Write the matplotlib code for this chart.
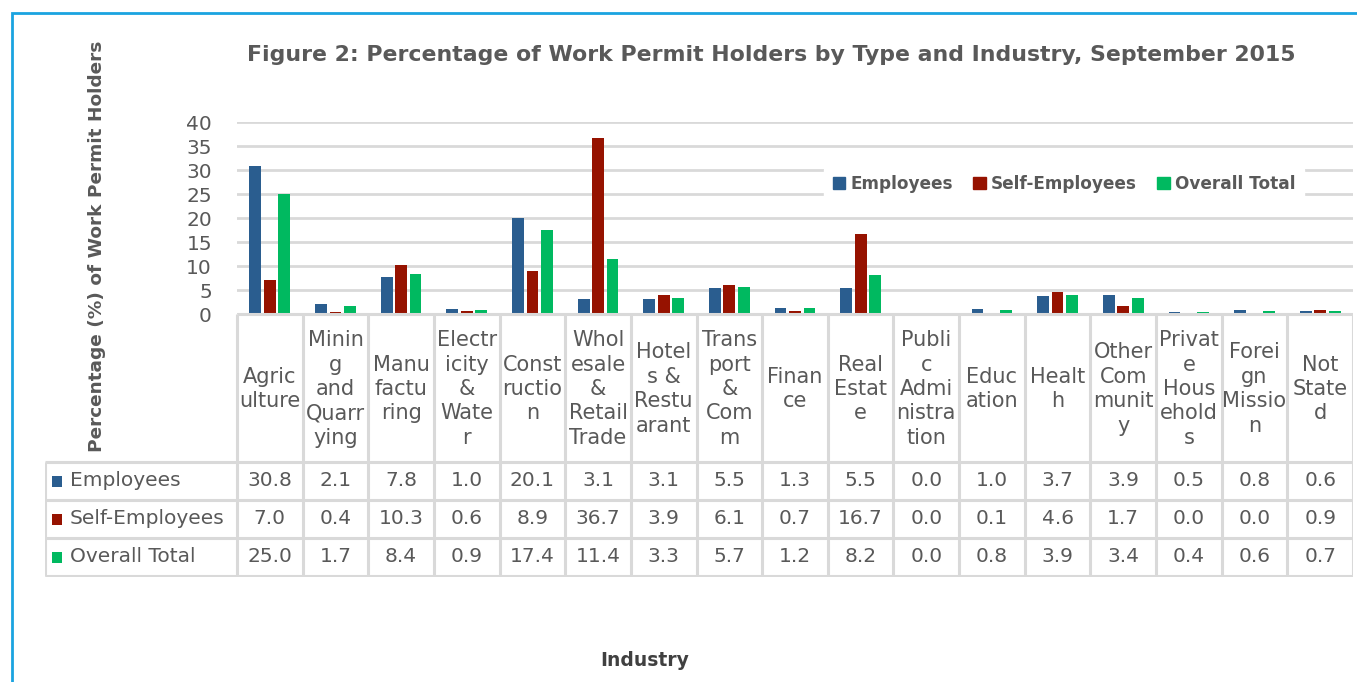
import matplotlib.pyplot as plt
import matplotlib.patches as mpatches
import numpy as np

# Datos
industrias = ["Agric\nulture", "Minin\ng\nand\nQuarr\nying", "Manu\nfactu\nring",
              "Electr\nicity\n&\nWate\nr", "Const\nructio\nn",
              "Whol\nesale\n&\nRetail\nTrade", "Hotel\ns &\nRestu\narant",
              "Trans\nport\n&\nCom\nm", "Finan\nce", "Real\nEstat\ne",
              "Publi\nc\nAdmi\nnistra\ntion", "Educ\nation", "Healt\nh",
              "Other\nCom\nmunit\ny", "Privat\ne\nHous\nehold\ns",
              "Forei\ngn\nMissio\nn", "Not\nState\nd"]
series = ["Employees", "Self-Employees", "Overall Total"]
employees = [30.8, 2.1, 7.8, 1.0, 20.1, 3.1, 3.1, 5.5, 1.3, 5.5, 0.0, 1.0, 3.7, 3.9, 0.5, 0.8, 0.6]
self_employees = [7.0, 0.4, 10.3, 0.6, 8.9, 36.7, 3.9, 6.1, 0.7, 16.7, 0.0, 0.1, 4.6, 1.7, 0.0, 0.0, 0.9]
overall_total = [25.0, 1.7, 8.4, 0.9, 17.4, 11.4, 3.3, 5.7, 1.2, 8.2, 0.0, 0.8, 3.9, 3.4, 0.4, 0.6, 0.7]
colores = ['#2A5D8F', '#961200', '#00B960']
valores = [employees, self_employees, overall_total]

gris = '#595959'
linea = '#D9D9D9'
W, H = 1357, 682

fig = plt.figure(figsize=(W / 100, H / 100), dpi=100)

def px(x0, y0, x1, y1):
    # rectangulo en pixeles -> coordenadas de figura
    return [x0 / W, 1 - y1 / H, (x1 - x0) / W, (y1 - y0) / H]

n = len(industrias)
x = np.arange(n)

# Grafico de barras
ax = fig.add_axes(px(237, 122, 1353, 314))
ax.set_xlim(-0.5, n - 0.5)
ax.set_ylim(0, 40)
ancho = 0.18
desp = 0.22
for k in range(3):
    ax.bar(x + (k - 1) * desp, valores[k], ancho, color=colores[k], label=series[k], zorder=3)
ax.set_yticks(range(0, 41, 5))
ax.yaxis.grid(True, color=linea, lw=2, zorder=0)
ax.set_xticks([])
for s in ['top', 'right', 'left', 'bottom']:
    ax.spines[s].set_visible(False)
ax.tick_params(axis='y', length=0, labelsize=14.5, labelcolor=gris, pad=18)

# Leyenda
handles = [mpatches.Patch(color=c) for c in colores]
leg = fig.legend(handles, series, loc='center', bbox_to_anchor=(1064 / W, 1 - 184 / H),
                 ncol=3, frameon=True, fontsize=12.2, handlelength=0.75, handleheight=0.75,
                 handletextpad=0.3, columnspacing=1.2, borderpad=0.5)
leg.get_frame().set_edgecolor('white')
leg.get_frame().set_facecolor('white')
leg.get_frame().set_alpha(1)
for t in leg.get_texts():
    t.set_fontweight('bold')
    t.set_color(gris)

# Tabla de datos (coordenadas: x en categorias, y en pixeles)
izq = -0.5 - (237 - 45) / ((1353 - 237) / n)
tb = fig.add_axes(px(45, 312, 1353, 577))
tb.set_xlim(izq, n - 0.5)
tb.set_ylim(577, 312)
tb.axis('off')
filas = [314, 462, 500, 538, 576]
kw = dict(color=linea, lw=2.2, solid_capstyle='butt')
tb.plot([-0.5, n - 0.5], [314, 314], **kw)
for yy in filas[1:]:
    tb.plot([izq, n - 0.5], [yy, yy], **kw)
for i in range(n + 1):
    tb.plot([i - 0.5, i - 0.5], [314, 576], **kw)
tb.plot([izq, izq], [462, 576], **kw)

for i, lab in enumerate(industrias):
    tb.text(i, 389, lab, ha='center', va='center', fontsize=15, color=gris, linespacing=1.28)

for r in range(3):
    yc = (filas[r + 1] + filas[r + 2]) / 2
    tb.add_patch(mpatches.Rectangle((izq + 0.1, yc - 5.5), 0.16, 11, color=colores[r], lw=0))
    tb.text(izq + 0.38, yc, series[r], ha='left', va='center', fontsize=14.5, color=gris)
    for i in range(n):
        tb.text(i, yc, f"{valores[r][i]:.1f}", ha='center', va='center', fontsize=14.5, color=gris)

# Textos
fig.text(771 / W, 1 - 55 / H, "Figure 2: Percentage of Work Permit Holders by Type and Industry, September 2015",
         ha='center', va='center', fontsize=15.8, fontweight='bold', color=gris)
fig.text(97 / W, 1 - 246 / H, "Percentage (%) of Work Permit Holders", rotation=90,
         ha='center', va='center', fontsize=13.3, fontweight='bold', color=gris)
fig.text(645 / W, 1 - 660 / H, "Industry", ha='center', va='center', fontsize=13.5,
         fontweight='bold', color='#404040')

# Borde azul
fig.patches.append(mpatches.Rectangle((12 / W, -0.1), 1.2, 1 - 13 / H + 0.1, transform=fig.transFigure,
                                      fill=False, edgecolor='#1AA3E0', lw=2))

fig.savefig('out.png', dpi=100, facecolor='white')
